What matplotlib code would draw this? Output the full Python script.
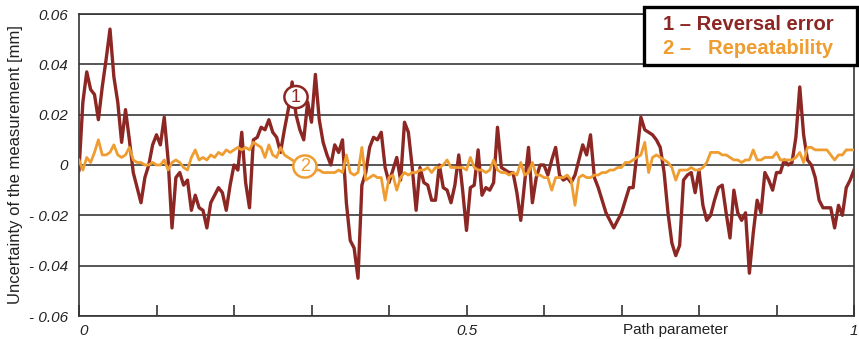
"""Reversal error and repeatability along the path parameter."""

import matplotlib.pyplot as plt
import numpy as np
from matplotlib.patches import Ellipse, Rectangle

reversal_um = [
    -2, 25, 37, 30, 28, 18, 31, 42, 54, 35,
    25, 9, 22, 10, -3, -9, -15, -5, 0, 8,
    12, 8, 19, 2, -25, -5, -3, -8, -6, -18,
    -12, -17, -18, -25, -15, -12, -9, -11, -18, -8,
    0, -2, 13, -7, -17, 10, 11, 15, 14, 18,
    13, 11, 5, 14, 22, 33, 20, 14, 10, 25,
    17, 36, 18, 9, 4, 0, 8, 5, 10, -15,
    -30, -33, -45, -8, -3, 7, 11, 10, 13, -1,
    -7, -2, 3, -6, 17, 13, -1, -18, -1, -7,
    -8, -14, -14, 0, -9, -10, -15, -8, 4, -10,
    -26, -9, -8, 6, -12, -9, -10, -7, 15, -1,
    -2, -3, -3, -11, -22, -7, 7, -15, -5, 0,
    0, -4, 2, 7, -4, -6, -5, -7, -4, 2,
    8, 4, 12, -5, -9, -14, -19, -22, -25, -22,
    -19, -14, -9, -9, 5, 19, 14, 13, 12, 10,
    7, -3, -19, -31, -36, -32, -6, -4, -3, -11,
    -2, -16, -22, -20, -14, -9, -8, -19, -29, -10,
    -19, -22, -19, -43, -27, -14, -19, -3, -6, -10,
    -3, -3, 2, 0, 1, 11, 31, 12, 2, 0,
    -5, -14, -17, -17, -17, -25, -16, -20, -9, -6,
    -2,
]

repeatability_um = [
    2, -2, 3, 1, 5, 10, 4, 4, 5, 8,
    4, 3, 4, 7, 2, 1, 1, 0, 0, 1,
    0, 0, 2, -2, 1, 2, 1, -1, -2, 3,
    6, 2, 3, 2, 4, 3, 5, 4, 6, 5,
    6, 7, 6, 7, 6, 9, 8, 7, 3, 8,
    4, 3, 7, 4, 3, 2, 1, 0, -1, -1,
    -1, -2, -2, -3, -3, -3, -3, -2, -3, 4,
    -3, -4, -3, 7, -6, -5, -4, -5, -5, -14,
    -5, -4, -10, -5, -3, -4, -3, -3, -2, -2,
    -1, -3, -1, -1, 0, 2, -1, -1, -1, -1,
    -2, 3, -1, -2, -2, -3, -2, 2, -2, -3,
    -3, -4, -3, -4, 1, -4, -3, 1, -4, -4,
    -5, -5, -10, -5, -5, -5, -4, -6, -16, -5,
    -4, -5, -5, -4, -4, -3, -3, -2, -2, -1,
    -1, 1, 1, 2, 3, 4, 9, -3, 3, 4,
    3, 2, 1, -1, -6, -2, -2, -2, -1, -2,
    -2, -1, 1, 5, 5, 5, 4, 4, 3, 2,
    2, 1, 2, 2, 6, 2, 2, 3, 3, 3,
    5, 2, 2, 2, 2, 3, 5, 1, 7, 7,
    6, 6, 6, 6, 4, 2, 4, 4, 6, 6,
    6,
]

y_ticks = [-0.06, -0.04, -0.02, 0.0, 0.02, 0.04, 0.06]
y_tick_labels = ["- 0.06", "- 0.04", "- 0.02", "0", "0.02", "0.04", "0.06"]
x_ticks = [0.0, 0.1, 0.2, 0.3, 0.4, 0.5, 0.6, 0.7, 0.8, 0.9, 1.0]
x_tick_labels = ["0", "", "", "", "", "0.5", "", "", "", "", "1"]

RED = "#8c2724"
ORANGE = "#ef9c30"
INK = "#222222"

plt.rcParams["font.family"] = ["Liberation Sans", "DejaVu Sans"]

fig = plt.figure(figsize=(8.59, 3.39), dpi=100)
ax = fig.add_axes([79 / 859, 1 - 316 / 339, 775 / 859, 302 / 339])

path_red = np.linspace(0, 1, len(reversal_um))
path_orange = np.linspace(0, 1, len(repeatability_um))
ax.plot(path_red, np.array(reversal_um) / 1000, color=RED, lw=2.4, zorder=3)
ax.plot(path_orange, np.array(repeatability_um) / 1000, color=ORANGE, lw=2.0, zorder=4)

ax.set_xlim(0, 1)
ax.set_ylim(-0.06, 0.06)
ax.set_yticks(y_ticks)
ax.set_yticklabels(y_tick_labels, fontsize=11, style="italic", color=INK)
ax.set_xticks(x_ticks)
ax.set_xticklabels(x_tick_labels, fontsize=11, style="italic", color=INK)
ax.get_xticklabels()[0].set_horizontalalignment("left")
ax.tick_params(axis="y", length=0, pad=8)
ax.tick_params(axis="x", direction="in", length=8, width=1.2, color="#333333", pad=6)
ax.grid(axis="y", color="#3a3a3a", lw=1.2)
ax.set_axisbelow(True)
for side in ax.spines.values():
    side.set_color("#333333")
    side.set_linewidth(1.2)

ax.set_ylabel("Uncertainty of the measurement [mm]", fontsize=12, color=INK, labelpad=4)
ax.set_xlabel("Path parameter", fontsize=11, color=INK, va="top")
ax.xaxis.set_label_coords(0.77, -0.022)

# circled curve numbers
for cx, cy, num, col in [(0.28, 0.027, "1", RED), (0.2915, -0.0006, "2", ORANGE)]:
    ax.add_patch(Ellipse((cx, cy), 0.03, 0.0088, facecolor="white", edgecolor=col, lw=1.8, zorder=6))
    ax.text(cx, cy, num, color=col, fontsize=13, ha="center", va="center", zorder=7)

# legend box
fig.patches.append(Rectangle((644 / 859, 1 - 65 / 339), 213 / 859, 58 / 339,
                             transform=fig.transFigure, facecolor="white",
                             edgecolor="black", lw=2.4, zorder=10))
fig.text(663 / 859, 1 - 25 / 339, "1 – Reversal error", color=RED, fontsize=14.5,
         weight="bold", ha="left", va="center", zorder=11)
fig.text(663 / 859, 1 - 48 / 339, "2 –   Repeatability", color=ORANGE, fontsize=14.5,
         weight="bold", ha="left", va="center", zorder=11)

fig.savefig("out.png", dpi=100)
